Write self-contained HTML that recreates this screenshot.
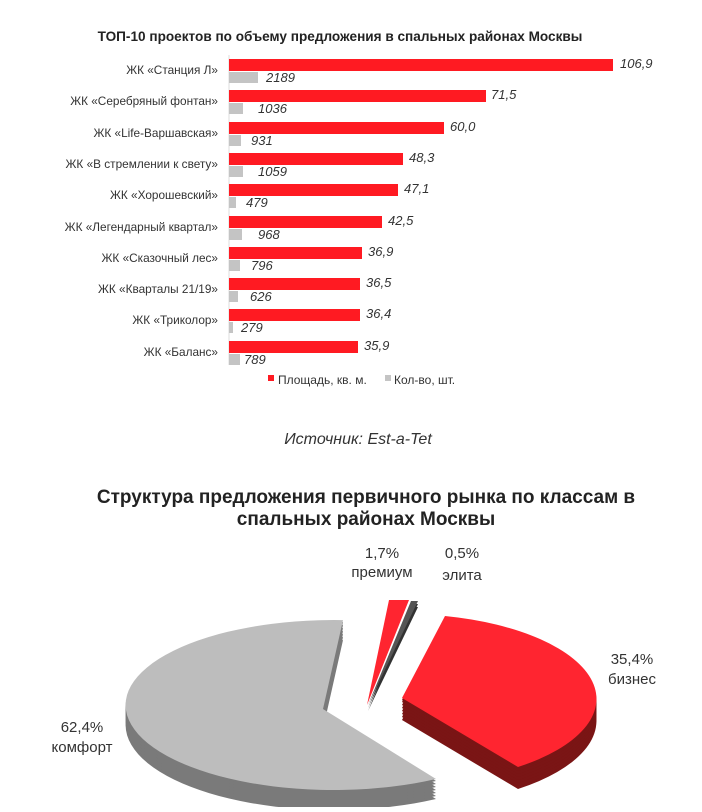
<!DOCTYPE html>
<html><head><meta charset="utf-8"><style>
body{margin:0;background:#fff;width:702px;height:807px;overflow:hidden;font-family:"Liberation Sans","DejaVu Sans",sans-serif}
</style></head><body>
<svg width="702" height="807" xmlns="http://www.w3.org/2000/svg" font-family="Liberation Sans, DejaVu Sans, sans-serif">
<text x="340" y="41" text-anchor="middle" font-size="13.6" font-weight="bold" fill="#222">ТОП-10 проектов по объему предложения в спальных районах Москвы</text>
<line x1="229" y1="55" x2="229" y2="365" stroke="#ddd"/>
<g font-size="11.8" fill="#333">
<g text-anchor="end">
<text x="218" y="74">ЖК «Станция Л»</text>
<text x="218" y="105">ЖК «Серебряный фонтан»</text>
<text x="218" y="137">ЖК «Life-Варшавская»</text>
<text x="218" y="168">ЖК «В стремлении к свету»</text>
<text x="218" y="199">ЖК «Хорошевский»</text>
<text x="218" y="231">ЖК «Легендарный квартал»</text>
<text x="218" y="262">ЖК «Сказочный лес»</text>
<text x="218" y="293">ЖК «Кварталы 21/19»</text>
<text x="218" y="324">ЖК «Триколор»</text>
<text x="218" y="356">ЖК «Баланс»</text>
</g>
<g fill="#ff1a22">
<rect x="229" y="59" width="384" height="12"/>
<rect x="229" y="90" width="257" height="12"/>
<rect x="229" y="122" width="215" height="12"/>
<rect x="229" y="153" width="174" height="12"/>
<rect x="229" y="184" width="169" height="12"/>
<rect x="229" y="216" width="153" height="12"/>
<rect x="229" y="247" width="133" height="12"/>
<rect x="229" y="278" width="131" height="12"/>
<rect x="229" y="309" width="131" height="12"/>
<rect x="229" y="341" width="129" height="12"/>
</g>
<g fill="#c4c4c4">
<rect x="229" y="72" width="29" height="11"/>
<rect x="229" y="103" width="14" height="11"/>
<rect x="229" y="135" width="12" height="11"/>
<rect x="229" y="166" width="14" height="11"/>
<rect x="229" y="197" width="7" height="11"/>
<rect x="229" y="229" width="13" height="11"/>
<rect x="229" y="260" width="11" height="11"/>
<rect x="229" y="291" width="9" height="11"/>
<rect x="229" y="322" width="4" height="11"/>
<rect x="229" y="354" width="11" height="11"/>
</g>
<g font-style="italic" font-size="13">
<text x="620" y="68">106,9</text><text x="266" y="82">2189</text>
<text x="491" y="99">71,5</text><text x="258" y="113">1036</text>
<text x="450" y="131">60,0</text><text x="251" y="145">931</text>
<text x="409" y="162">48,3</text><text x="258" y="176">1059</text>
<text x="404" y="193">47,1</text><text x="246" y="207">479</text>
<text x="388" y="225">42,5</text><text x="258" y="239">968</text>
<text x="368" y="256">36,9</text><text x="251" y="270">796</text>
<text x="366" y="287">36,5</text><text x="250" y="301">626</text>
<text x="366" y="318">36,4</text><text x="241" y="332">279</text>
<text x="364" y="350">35,9</text><text x="244" y="364">789</text>
</g>
<rect x="268" y="375" width="6" height="6" fill="#ff1a22"/>
<text x="278" y="384" font-size="12">Площадь, кв. м.</text>
<rect x="385" y="375" width="6" height="6" fill="#c4c4c4"/>
<text x="394" y="384" font-size="12">Кол-во, шт.</text>
</g>
<text x="358" y="444" text-anchor="middle" font-size="16" font-style="italic" fill="#333">Источник: Est-a-Tet</text>
<text x="366" y="503" text-anchor="middle" font-size="19" font-weight="bold" fill="#222">Структура  предложения первичного рынка по классам в</text>
<text x="366" y="525" text-anchor="middle" font-size="19" font-weight="bold" fill="#222">спальных районах Москвы</text>
<defs>
<path id="g" d="M323 709 L343 620.1 A208 85 0 1 0 436 779 Z"/>
<path id="r" d="M402 698 L445 616 A195 85 0 0 1 518 767 Z"/>
<path id="p" d="M367 705 L389 600 L409 600 Z"/>
<path id="e" d="M368 705 L411 601 L418 601 Z"/>
</defs>
<g fill="#7a7a7a">
<use href="#g" y="20"/><use href="#g" y="17"/><use href="#g" y="14"/><use href="#g" y="11"/><use href="#g" y="8"/><use href="#g" y="5"/><use href="#g" y="2"/>
</g>
<use href="#g" fill="#bdbdbd"/>
<g fill="#7a1515">
<use href="#r" y="22"/><use href="#r" y="19"/><use href="#r" y="16"/><use href="#r" y="13"/><use href="#r" y="10"/><use href="#r" y="7"/><use href="#r" y="4"/><use href="#r" y="2"/>
</g>
<use href="#r" fill="#ff2530"/>
<g fill="#333"><use href="#e" y="6"/><use href="#e" y="3"/></g>
<use href="#e" fill="#555"/>
<use href="#p" fill="#ff2530"/>
<g font-size="15" fill="#333" text-anchor="middle">
<text x="382" y="558">1,7%</text><text x="382" y="577">премиум</text>
<text x="462" y="558">0,5%</text><text x="462" y="580">элита</text>
<text x="632" y="664">35,4%</text><text x="632" y="684">бизнес</text>
<text x="82" y="732">62,4%</text><text x="82" y="752">комфорт</text>
</g>
</svg>
</body></html>
